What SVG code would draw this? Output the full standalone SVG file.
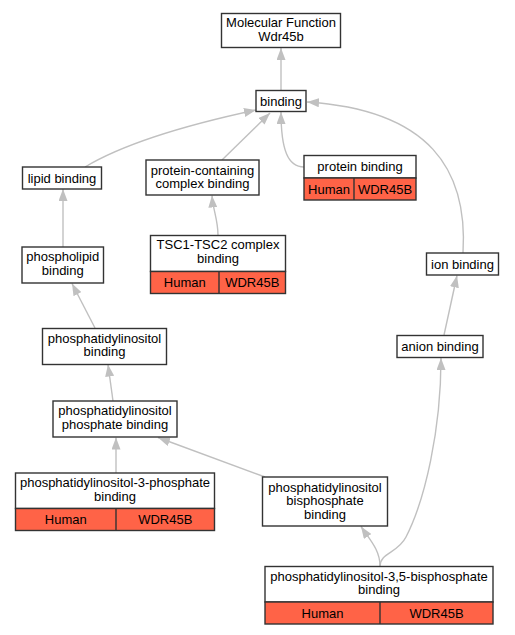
<svg xmlns="http://www.w3.org/2000/svg" width="515" height="635" viewBox="0 0 515 635">
<style>
.box{fill:#fff;stroke:#333;stroke-width:1.4}
.red{fill:#ff6347;stroke:#333;stroke-width:1.4}
.div{stroke:#333;stroke-width:1.4}
text{font-family:"Liberation Sans",Arial,sans-serif;font-size:13px;fill:#000;text-anchor:middle}
.edge{fill:none;stroke:#c0c0c0;stroke-width:1.4}
</style>
<defs>
<marker id="arr" viewBox="0 0 12 9" refX="12" refY="4.5" markerWidth="12" markerHeight="9" markerUnits="userSpaceOnUse" orient="auto">
<path d="M0,0 L12,4.5 L0,9 z" fill="#c0c0c0"/>
</marker>
</defs>
<rect width="515" height="635" fill="#fff"/>
<g id="edges">
<path class="edge" marker-end="url(#arr)" d="M281,90 L281,48"/>
<path class="edge" marker-end="url(#arr)" d="M85,167 C130,140 200,122 256,110"/>
<path class="edge" marker-end="url(#arr)" d="M222,160 L270,113"/>
<path class="edge" marker-end="url(#arr)" d="M304,167 C288,167 281,150 281,112"/>
<path class="edge" marker-end="url(#arr)" d="M463,253 C468,170 430,110 307,102"/>
<path class="edge" marker-end="url(#arr)" d="M218,235 C218,220 213,210 212,195.5"/>
<path class="edge" marker-end="url(#arr)" d="M63,247 L63,189"/>
<path class="edge" marker-end="url(#arr)" d="M95,328 L72,283.5"/>
<path class="edge" marker-end="url(#arr)" d="M444,335 L457,275.5"/>
<path class="edge" marker-end="url(#arr)" d="M113,401 L108,364.5"/>
<path class="edge" marker-end="url(#arr)" d="M116,473 L116,437.5"/>
<path class="edge" marker-end="url(#arr)" d="M265,477 L158,437.5"/>
<path class="edge" marker-end="url(#arr)" d="M380,566 C380,550 370,540 361,526.5"/>
<path class="edge" marker-end="url(#arr)" d="M380,566 C380,553 398,553 406,537 C425,500 441,430 441,358"/>
</g>
<g id="mf">
<rect class="box" x="221.5" y="13.5" width="119" height="34"/>
<text x="281" y="27">Molecular Function</text>
<text x="281" y="41">Wdr45b</text>
</g>
<g id="binding">
<rect class="box" x="256" y="90.5" width="50" height="21"/>
<text x="281" y="105.5">binding</text>
</g>
<g id="lipid">
<rect class="box" x="22.5" y="167" width="79" height="22"/>
<text x="62" y="182.5">lipid binding</text>
</g>
<g id="pcc">
<rect class="box" x="146" y="160" width="113" height="35"/>
<text x="202.5" y="174.5">protein-containing</text>
<text x="202.5" y="188">complex binding</text>
</g>
<g id="protein">
<rect class="box" x="304" y="155.5" width="112" height="22.5"/>
<rect class="red" x="304" y="178" width="112" height="22"/>
<line class="div" x1="354" y1="178" x2="354" y2="200"/>
<text x="360" y="171">protein binding</text>
<text x="329" y="193.5">Human</text>
<text x="385" y="193.5">WDR45B</text>
</g>
<g id="tsc">
<rect class="box" x="150.5" y="235.5" width="135" height="36"/>
<rect class="red" x="150.5" y="271.5" width="135" height="22"/>
<line class="div" x1="219" y1="271.5" x2="219" y2="293.5"/>
<text x="218" y="249">TSC1-TSC2 complex</text>
<text x="218" y="262.5">binding</text>
<text x="184.75" y="287">Human</text>
<text x="252.25" y="287">WDR45B</text>
</g>
<g id="phospholipid">
<rect class="box" x="22" y="247" width="81.5" height="36"/>
<text x="62.75" y="261">phospholipid</text>
<text x="62.75" y="274.5">binding</text>
</g>
<g id="ion">
<rect class="box" x="426.5" y="253" width="72" height="22"/>
<text x="462.5" y="268.5">ion binding</text>
</g>
<g id="pi">
<rect class="box" x="42.5" y="328.5" width="124" height="36"/>
<text x="104.5" y="342.5">phosphatidylinositol</text>
<text x="104.5" y="356">binding</text>
</g>
<g id="anion">
<rect class="box" x="397" y="335.5" width="86" height="22"/>
<text x="440" y="351">anion binding</text>
</g>
<g id="pip">
<rect class="box" x="53" y="401" width="124" height="36"/>
<text x="115" y="415">phosphatidylinositol</text>
<text x="115" y="428.5">phosphate binding</text>
</g>
<g id="pi3p">
<rect class="box" x="15.5" y="473" width="199" height="35.5"/>
<rect class="red" x="15.5" y="508.5" width="199" height="22"/>
<line class="div" x1="116" y1="508.5" x2="116" y2="530.5"/>
<text x="115" y="487">phosphatidylinositol-3-phosphate</text>
<text x="115" y="500.5">binding</text>
<text x="65.75" y="524">Human</text>
<text x="165.25" y="524">WDR45B</text>
</g>
<g id="pibisp">
<rect class="box" x="262.5" y="477" width="125" height="49"/>
<text x="325" y="491.5">phosphatidylinositol</text>
<text x="325" y="505">bisphosphate</text>
<text x="325" y="518.5">binding</text>
</g>
<g id="pi35p2">
<rect class="box" x="265" y="566.5" width="228" height="35.5"/>
<rect class="red" x="265" y="602" width="228" height="22"/>
<line class="div" x1="380" y1="602" x2="380" y2="624"/>
<text x="379" y="580.5">phosphatidylinositol-3,5-bisphosphate</text>
<text x="379" y="594">binding</text>
<text x="322.5" y="617.5">Human</text>
<text x="436.5" y="617.5">WDR45B</text>
</g>
</svg>
